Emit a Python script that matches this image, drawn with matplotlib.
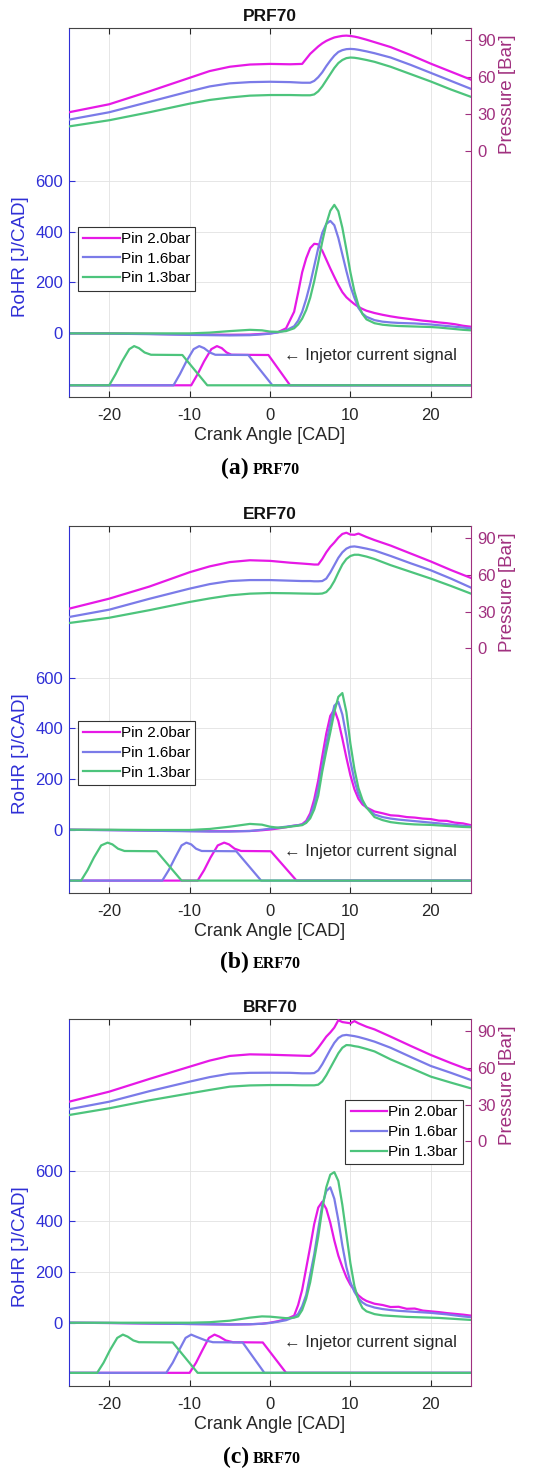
"""
RoHR / pressure traces for PRF70, ERF70, BRF70 at three intake pressures
"""

import matplotlib
matplotlib.use('Agg')
import matplotlib.pyplot as plt

plt.rcParams['font.family'] = ['Liberation Sans', 'DejaVu Sans']
plt.rcParams['axes.unicode_minus'] = False

# ---- data ----
FUELS = ['PRF70', 'ERF70', 'BRF70']
TAGS = ['(a)', '(b)', '(c)']
LABELS = ['Pin 2.0bar', 'Pin 1.6bar', 'Pin 1.3bar']
XTICKS = [-20, -10, 0, 10, 20]
RTICKS = [0, 200, 400, 600]
PTICKS = [0, 30, 60, 90]

# crank angle grid for pressure traces
CA_P = [-25, -20, -15, -10, -7.5, -5, -2.5, 0, 2.5, 4, 5, 5.5, 6, 6.5, 7, 7.5, 8, 8.5,
        9, 9.5, 10, 10.5, 11, 12, 13, 15, 17.5, 20, 22.5, 25]

P_PRF70_20 = [31.5, 38, 48.5, 59.5, 65, 68.5, 70.3, 70.8, 70.5, 70.8, 79, 82, 85, 87.5, 89.5,
              91, 92.3, 93, 93.6, 93.8, 93.5, 93, 92.3, 90.5, 88.5, 84.5, 78, 71, 64.5, 58]
P_PRF70_16 = [25.5, 31.5, 40, 48.5, 52.5, 55, 56, 56.3, 56, 55.5, 55.5, 57, 60, 64, 69,
              73.5, 77.5, 80.5, 82, 82.8, 83, 82.8, 82.3, 81, 79.5, 76, 70, 63.5, 57, 50.5]
P_PRF70_13 = [20, 25, 31.5, 38.5, 41.5, 43.5, 45, 45.5, 45.5, 45.3, 45.3, 46, 48.5, 52.5, 57.5,
              62.5, 67.5, 71.5, 74, 75.5, 76, 75.8, 75.3, 74, 72.5, 68.5, 62.5, 56.5, 50, 44]

P_ERF70_20 = [32.4, 40.6, 50.5, 62.2, 67, 70.5, 72, 71.5, 70, 69.3, 68.8, 68.5, 68.5, 73, 78.5,
              83, 86.5, 90.5, 93.5, 94.5, 93, 92.8, 93.8, 91, 88.5, 84, 77.5, 71, 64, 57.5]
P_ERF70_16 = [25.6, 31.6, 40.5, 48.8, 52.5, 55, 55.8, 55.8, 55.3, 55, 55, 54.8, 54.8, 55, 57,
              62, 68, 74, 78.5, 81.5, 83, 83.3, 82.8, 81.5, 80, 75.5, 69.5, 63.8, 57, 49.6]
P_ERF70_13 = [20.7, 25, 31.2, 37.9, 40.8, 43.3, 44.7, 45.2, 45, 44.8, 44.7, 44.6, 44.6, 44.8, 46,
              49.5, 55, 62, 68.5, 73, 75.5, 76.5, 76.5, 75, 73, 68, 62.5, 57, 51, 44.7]

P_BRF70_20 = [32.4, 40.6, 51, 61, 66, 69.8, 71.1, 70.8, 70.3, 70, 69.8, 72.5, 76.5, 81, 85.6,
              89, 93, 99, 97.5, 97, 96.5, 98.3, 96.5, 93.7, 91.5, 85.6, 78, 70.6, 64, 57.8]
P_BRF70_16 = [26.2, 32.4, 41, 48.8, 52.5, 55.3, 56, 56.1, 56, 55.6, 55.6, 55.8, 58, 63, 69,
              75, 80.5, 84.5, 86.5, 87, 86.5, 86, 85.3, 83.5, 81.5, 76.5, 69, 61.6, 56, 50.1]
P_BRF70_13 = [21.5, 27, 33.5, 39.2, 42, 44.7, 45.7, 46, 46, 45.8, 45.8, 45.8, 46.3, 49, 54,
              60, 66, 72, 76.5, 78.7, 78.5, 77.8, 77.3, 75.5, 73.5, 67, 60, 52.9, 48, 43.3]

# crank angle grid for rate of heat release
CA_R = [-25, -20, -15, -10, -7.5, -5, -2.5, -1, 0, 1, 2, 3, 3.5, 4, 4.5, 5, 5.5, 6, 6.5, 7,
        7.5, 8, 8.5, 9, 9.5, 10, 10.5, 11, 11.5, 12, 13, 14, 15, 16, 17, 18, 19, 20, 21, 22,
        23, 24, 25]

R_PRF70_20 = [0, 0, -2, -4, -5, -6, -5, -2, 0, 5, 20,
              85, 160, 240, 295, 335, 352, 350, 325, 290, 255, 222, 190, 162, 142, 128, 115, 104, 96, 89,
              80, 73, 67, 62, 58, 54, 50, 47, 43, 40, 36, 30, 26]
R_PRF70_16 = [0, -1, -3, -6, -7, -8, -7, -4, -1, 4, 12,
              28, 50, 85, 135, 195, 265, 335, 395, 430, 442, 425, 375, 310, 245, 185, 140, 100, 78, 65,
              52, 46, 43, 41, 40, 39, 37, 35, 32, 29, 26, 23, 20]
R_PRF70_13 = [0, 0, 0, 0, 3, 9, 14, 12, 7, 6, 9,
              20, 35, 58, 92, 140, 205, 280, 360, 430, 482, 505, 480, 415, 330, 240, 165, 110, 76, 55,
              40, 34, 31, 29, 28, 27, 26, 25, 23, 20, 17, 14, 12]

R_ERF70_20 = [0, -1, -3, -5, -6, -6, -5, -2, 1, 5, 10,
              16, 18, 22, 35, 65, 120, 195, 290, 380, 450, 475, 430, 360, 285, 215, 160, 122, 100, 88,
              72, 65, 57, 55, 50, 48, 44, 42, 36, 35, 28, 25, 18]
R_ERF70_16 = [0, -2, -4, -6, -7, -7, -5, 0, 4, 8, 12,
              16, 18, 20, 30, 55, 100, 165, 250, 340, 420, 490, 505, 455, 370, 270, 195, 140, 110, 88,
              60, 50, 44, 40, 37, 34, 31, 28, 25, 22, 19, 16, 13]
R_ERF70_13 = [0, 0, -1, -1, 3, 12, 23, 20, 12, 8, 10,
              14, 16, 18, 27, 45, 80, 135, 230, 310, 385, 465, 525, 540, 465, 340, 240, 165, 118, 88,
              50, 38, 30, 26, 23, 21, 20, 19, 17, 15, 13, 11, 10]

R_BRF70_20 = [0, -1, -3, -5, -6, -7, -6, -4, 0, 6, 14,
              28, 70, 130, 215, 300, 390, 455, 478, 450, 395, 325, 265, 220, 180, 150, 128, 108, 95, 86,
              75, 70, 62, 63, 55, 56, 48, 45, 42, 38, 35, 32, 28]
R_BRF70_16 = [0, -1, -3, -5, -6, -7, -6, -4, -1, 4, 10,
              22, 35, 65, 110, 190, 270, 370, 465, 520, 535, 490, 405, 305, 220, 160, 122, 96, 80, 70,
              60, 54, 50, 47, 45, 43, 41, 39, 36, 33, 29, 25, 22]
R_BRF70_13 = [0, 0, 0, 0, 2, 8, 20, 25, 24, 21, 18,
              20, 25, 50, 95, 160, 250, 340, 450, 535, 585, 595, 560, 465, 350, 235, 145, 90, 58, 45,
              34, 29, 27, 25, 23, 22, 21, 20, 19, 17, 15, 13, 11]

# injector current signal (drawn on the RoHR scale)
INJ_PRF70_X_20 = [-25, -9.8, -9.0, -8.2, -7.3, -6.6, -6.0, -5.4, -4.8, -0.2, 2.5, 25]
INJ_PRF70_X_16 = [-25, -12.0, -11.2, -10.4, -9.5, -8.8, -8.2, -7.5, -6.8, -2.7, 0.3, 25]
INJ_PRF70_X_13 = [-25, -20.0, -19.2, -18.4, -17.5, -16.9, -16.3, -15.6, -14.8, -10.9, -7.8, 25]
INJ_PRF70_Y = [-204, -204, -160, -110, -62, -50, -58, -75, -84, -85, -204, -204]

INJ_ERF70_X_20 = [-25, -9.0, -8.2, -7.4, -6.5, -5.7, -5.1, -4.4, -3.6, 0.1, 3.3, 25]
INJ_ERF70_X_16 = [-25, -13.4, -12.6, -11.8, -11.0, -10.4, -9.8, -9.2, -8.5, -4.2, -1.1, 25]
INJ_ERF70_X_13 = [-25, -23.5, -22.7, -21.9, -21.0, -20.2, -19.6, -18.9, -18.1, -14.1, -11.0, 25]
INJ_ERF70_Y = [-201, -201, -160, -110, -62, -51, -58, -75, -84, -85, -201, -201]

INJ_BRF70_X_20 = [-25, -10.0, -9.2, -8.4, -7.6, -6.9, -6.3, -5.5, -4.6, -0.9, 2.0, 25]
INJ_BRF70_X_16 = [-25, -12.9, -12.1, -11.3, -10.5, -9.8, -9.2, -8.0, -7.1, -3.4, -0.7, 25]
INJ_BRF70_X_13 = [-25, -21.5, -20.7, -19.9, -19.0, -18.3, -17.7, -17.0, -16.3, -12.1, -9.0, 25]
INJ_BRF70_Y = [-198, -198, -158, -108, -60, -47, -55, -70, -77, -78, -198, -198]

# ---- style ----
COLORS = ['#e619e6', '#7b7be8', '#4dc47c']
BLUE = '#2f2fd6'
PURPLE = '#a0307f'
DARK = '#262626'
LW = 1.6

P_SERIES = [[P_PRF70_20, P_PRF70_16, P_PRF70_13],
            [P_ERF70_20, P_ERF70_16, P_ERF70_13],
            [P_BRF70_20, P_BRF70_16, P_BRF70_13]]
R_SERIES = [[R_PRF70_20, R_PRF70_16, R_PRF70_13],
            [R_ERF70_20, R_ERF70_16, R_ERF70_13],
            [R_BRF70_20, R_BRF70_16, R_BRF70_13]]
INJ_X = [[INJ_PRF70_X_20, INJ_PRF70_X_16, INJ_PRF70_X_13],
         [INJ_ERF70_X_20, INJ_ERF70_X_16, INJ_ERF70_X_13],
         [INJ_BRF70_X_20, INJ_BRF70_X_16, INJ_BRF70_X_13]]
INJ_Y = [INJ_PRF70_Y, INJ_ERF70_Y, INJ_BRF70_Y]

W, H = 547, 1470
fig = plt.figure(figsize=(W / 100, H / 100), dpi=100)

# pixel layout: axes top, axes bottom, caption baseline
tops = [28, 526, 1019]
bottoms = [397, 893, 1386]
cap_base = [474, 968, 1463]
text_y = [-85, -85, -80]
leg_pos = [('upper left', (0.022, 0.462)),
           ('upper left', (0.022, 0.469)),
           ('upper right', (0.98, 0.779))]

for i in range(3):
    rect = [69 / W, 1 - bottoms[i] / H, 402 / W, (bottoms[i] - tops[i]) / H]
    ax = fig.add_axes(rect)
    ax.set_xlim(-25, 25)
    ax.set_ylim(-250, 1200)
    ax.set_xticks(XTICKS)
    ax.set_yticks(RTICKS)
    ax.grid(True, color='#e2e2e2', lw=0.6)
    ax.set_axisbelow(True)

    for k in range(3):
        ax.plot(INJ_X[i][k], INJ_Y[i], color=COLORS[k], lw=LW)
    lines = []
    for k in range(3):
        ln, = ax.plot(CA_R, R_SERIES[i][k], color=COLORS[k], lw=LW)
        lines.append(ln)

    ax.text(1.7, text_y[i], '\u2190 Injetor current signal', fontsize=12,
            ha='left', va='center', color=DARK)

    ax.tick_params(axis='x', direction='in', top=True, length=4, pad=8,
                   labelsize=12, colors=DARK)
    ax.tick_params(axis='y', direction='in', length=4, pad=4.3, labelsize=12,
                   colors=BLUE, right=False)
    ax.spines['left'].set_color(BLUE)
    ax.spines['right'].set_visible(False)
    for s in ['top', 'bottom']:
        ax.spines[s].set_color('#444444')
        ax.spines[s].set_linewidth(0.8)
    ax.spines['left'].set_linewidth(0.8)

    ax.set_xlabel('Crank Angle [CAD]', fontsize=13, color=DARK, labelpad=3)
    ax.set_ylabel('RoHR [J/CAD]', fontsize=13.5, color=BLUE)
    ax.yaxis.set_label_coords(-0.1, 0.381)
    ax.set_title(FUELS[i], fontsize=12.5, fontweight='bold', pad=5, color='#111111')

    ax2 = ax.twinx()
    ax2.set_ylim(-200, 100)
    ax2.set_yticks(PTICKS)
    for k in range(3):
        ax2.plot(CA_P, P_SERIES[i][k], color=COLORS[k], lw=LW)
    ax2.tick_params(axis='y', direction='in', length=4, pad=4.3, labelsize=12,
                    colors=PURPLE)
    ax2.spines['right'].set_color(PURPLE)
    ax2.spines['right'].set_linewidth(0.8)
    for s in ['top', 'bottom', 'left']:
        ax2.spines[s].set_visible(False)
    ax2.set_ylabel('Pressure [Bar]', fontsize=13.5, color=PURPLE)
    ax2.yaxis.set_label_coords(1.07, 0.82)

    loc, anchor = leg_pos[i]
    leg = ax2.legend(lines, LABELS, loc=loc, bbox_to_anchor=anchor, fontsize=11,
                     frameon=True, fancybox=False, edgecolor='#333333', framealpha=1,
                     handlelength=2.4, handletextpad=0.05, labelspacing=0.38,
                     borderpad=0.35, borderaxespad=0)
    leg.get_frame().set_linewidth(0.8)

    yb = 1 - cap_base[i] / H
    fig.text(249 / W, yb, TAGS[i], ha='right', va='baseline', family='Liberation Serif',
             fontweight='bold', fontsize=17)
    fig.text(253 / W, yb, FUELS[i], ha='left', va='baseline', family='Liberation Serif',
             fontweight='bold', fontsize=11.5)

fig.savefig('out.png', dpi=100)
